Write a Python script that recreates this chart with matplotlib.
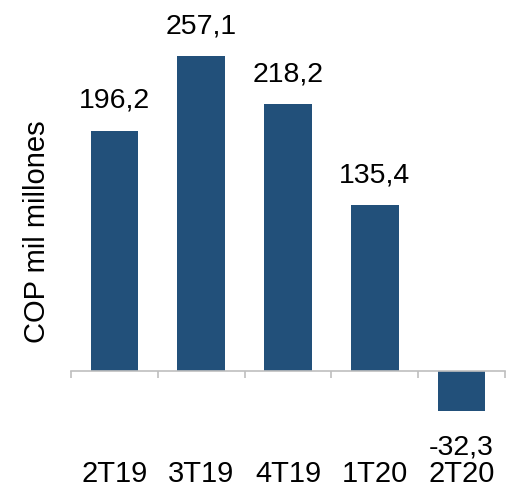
import matplotlib
matplotlib.use("Agg")
import matplotlib.pyplot as plt
import matplotlib.transforms as mtransforms

periods = ["2T19", "3T19", "4T19", "1T20", "2T20"]
values = [196.2, 257.1, 218.2, 135.4, -32.3]
value_labels = ["196,2", "257,1", "218,2", "135,4", "-32,3"]

barColor = "#22507A"
plt.rcParams["font.family"] = ["Liberation Sans", "DejaVu Sans"]

fig = plt.figure(figsize=(5.12, 4.88), dpi=100)
# axes: x pixels 71..505, y pixels 20..440
ax = fig.add_axes([71 / 512, (488 - 440) / 488, 434 / 512, 420 / 488])

xs = list(range(len(periods)))
ax.bar(xs, values, width=0.55, color=barColor)
ax.set_xlim(-0.5, len(periods) - 0.5)
ax.set_ylim(-56.3, 286.5)

for side in ["top", "right", "left"]:
    ax.spines[side].set_visible(False)
ax.spines["bottom"].set_position(("data", 0))
ax.spines["bottom"].set_color("#BFBFBF")
ax.spines["bottom"].set_linewidth(1.2)
ax.set_yticks([])
ax.set_xticks([x - 0.5 for x in xs] + [len(periods) - 0.5])
ax.set_xticklabels([])
ax.tick_params(axis="x", direction="out", length=5, color="#BFBFBF", width=1.2)

for x, v, lab in zip(xs, values, value_labels):
    if v >= 0:
        ax.annotate(lab, (x, v), xytext=(0, 12), textcoords="offset points",
                    ha="center", va="bottom", fontsize=20.5)
    else:
        ax.annotate(lab, (x, v), xytext=(0, -17), textcoords="offset points",
                    ha="center", va="top", fontsize=20.5)

trans = mtransforms.blended_transform_factory(ax.transData, fig.transFigure)
for x, p in zip(xs, periods):
    ax.text(x, (488 - 474) / 488, p, transform=trans, ha="center", va="center", fontsize=21)

fig.text(37 / 512, (488 - 232) / 488, "COP mil millones", rotation=90,
         ha="center", va="center", fontsize=21)

plt.savefig("out.png", dpi=100)
